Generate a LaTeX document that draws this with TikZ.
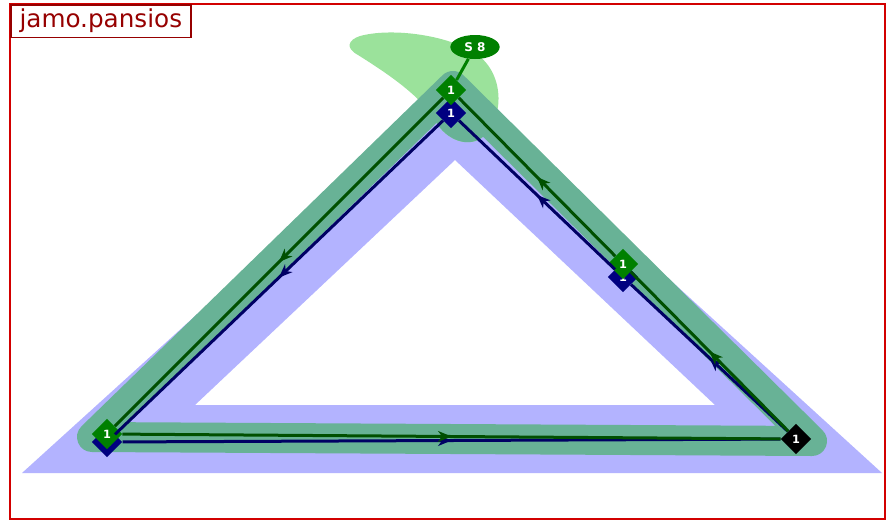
\documentclass[tikz,border=0pt]{standalone}
\usepackage{fontspec}
\setmainfont{DejaVu Sans}
\usetikzlibrary{positioning, arrows.meta, shapes.geometric, decorations.markings}
\definecolor{framered}{RGB}{210,0,0}
\definecolor{labelred}{RGB}{150,0,0}
\definecolor{bandblue}{RGB}{179,179,255}
\definecolor{bandteal}{RGB}{104,178,150}
\definecolor{blobgreen}{RGB}{155,226,155}
\definecolor{pathgreen}{RGB}{0,80,0}
\definecolor{markgreen}{RGB}{0,128,0}
\definecolor{pathnavy}{RGB}{0,0,100}
\definecolor{marknavy}{RGB}{0,0,128}

\begin{document}
\begin{tikzpicture}[x=0.75pt, y=-0.75pt, >=Stealth,
          v/.style={diamond, fill=#1, text=white, inner sep=0pt, minimum size=23pt,
                    font=\bfseries\fontsize{8.5}{9}\selectfont},
          e/.style={line width=2.25pt, postaction={decorate}, decoration={markings,
                    mark=at position 0.5 with {\arrow{Stealth[length=10pt, width=8pt, inset=3pt]}}}},
          tag/.style={ellipse, fill=markgreen, text=white, inner sep=0pt,
                      minimum width=37pt, minimum height=18pt,
                      font=\bfseries\fontsize{9}{10}\selectfont}]
        \useasboundingbox (0,0) rectangle (887,521);
        % regions
        \def\band{(22,473) -- (453,82) -- (882,473) -- cycle
            (195,405) -- (455,160) -- (715,405) -- cycle}
        \fill[bandblue, even odd rule] \band;
        \def\blob{(360,36) .. controls (390,28) and (440,34) .. (470,50)
            .. controls (505,68) and (505,115) .. (485,135)
            .. controls (470,150) and (445,140) .. (435,120)
            .. controls (420,95) and (385,72) .. (358,55)
            .. controls (345,48) and (348,40) .. (360,36) -- cycle}
        \fill[blobgreen] \blob;
        \begin{scope}
          \clip \blob;
          \fill[bandteal, even odd rule] \band;
        \end{scope}
        \draw[bandteal, line width=22.5pt, line join=round] (92,437) -- (453,86) -- (812,441) -- cycle;
        % vertices
        \node[v=marknavy] (nt) at (451,113) {1};
        \node[v=marknavy] (nmr) at (623,277) {1};
        \node[v=marknavy] (nbl) at (107,442) {1};
        \node[v=markgreen] (gt) at (451,90) {1};
        \node[v=markgreen] (gmr) at (623,264) {1};
        \node[v=markgreen] (gbl) at (107,434) {1};
        \node[v=black] (br) at (796,439) {1};
        % paths
        \draw[e, pathnavy] (nt) -- (nbl);
        \draw[e, pathnavy] (nbl) -- (br);
        \draw[e, pathnavy] (br) -- (nmr);
        \draw[e, pathnavy] (nmr) -- (nt);
        \draw[e, pathgreen] (gt) -- (gbl);
        \draw[e, pathgreen] (gbl) -- (br);
        \draw[e, pathgreen] (br) -- (gmr);
        \draw[e, pathgreen] (gmr) -- (gt);
        % tag
        \node[tag] (s8) at (475,47) {S 8};
        \draw[markgreen, line width=2.25pt] (s8) -- (gt);
        % frame
        \draw[framered, line width=1.5pt] (10,4) rectangle (885,519);
        \node[draw=labelred, line width=1.2pt, fill=white, text=labelred, anchor=north west,
              minimum width=135pt, minimum height=24.5pt, inner sep=0pt,
              font=\fontsize{18.5}{19}\selectfont] (title) at (10,4) {jamo.pansios};
      \end{tikzpicture}
\end{document}
